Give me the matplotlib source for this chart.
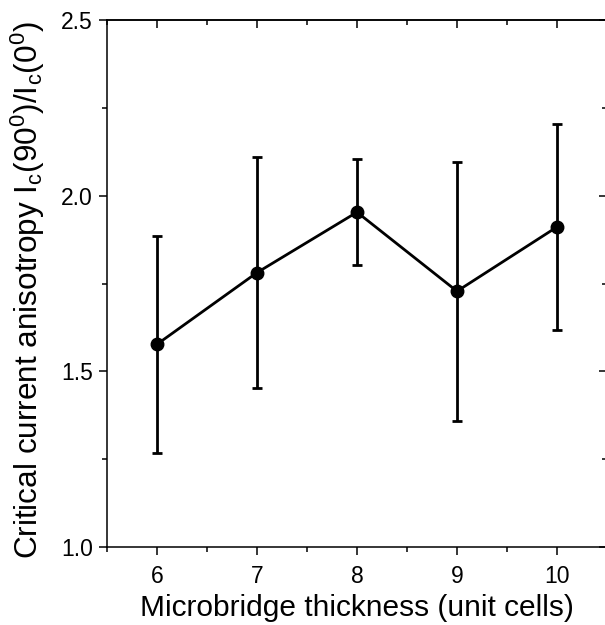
import matplotlib
matplotlib.use("Agg")
import matplotlib.pyplot as plt
from matplotlib.ticker import MultipleLocator

plt.rcParams['font.family'] = ['Liberation Sans', 'DejaVu Sans']
plt.rcParams['mathtext.fontset'] = 'custom'
plt.rcParams['mathtext.rm'] = 'Liberation Sans'
plt.rcParams['mathtext.it'] = 'Liberation Sans:italic'
plt.rcParams['mathtext.bf'] = 'Liberation Sans:bold'

thickness = [6, 7, 8, 9, 10]
anisotropy = [1.577, 1.781, 1.953, 1.728, 1.911]
err_upper = [1.886, 2.109, 2.104, 2.097, 2.204]
err_lower = [1.267, 1.453, 1.804, 1.360, 1.619]

yerr = [[a - lo for a, lo in zip(anisotropy, err_lower)],
        [hi - a for a, hi in zip(anisotropy, err_upper)]]

fig = plt.figure(figsize=(6.05, 6.25), dpi=100)
ax = fig.add_axes([107/605, 1 - 547/625, 500/605, 527/625])

ax.errorbar(thickness, anisotropy, yerr=yerr, color='black', lw=2.0,
            marker='o', markersize=9, capsize=3.6, capthick=2.0, elinewidth=2.0)

ax.set_xlim(5.5, 10.5)
ax.set_ylim(1.0, 2.5)
ax.xaxis.set_major_locator(MultipleLocator(1))
ax.xaxis.set_minor_locator(MultipleLocator(0.5))
ax.set_yticks([1.0, 1.5, 2.0, 2.5])
ax.set_yticklabels(['1.0', '1.5', '2.0', '2.5'])
ax.yaxis.set_minor_locator(MultipleLocator(0.25))

for s in ax.spines.values():
    s.set_linewidth(1.1)

ax.tick_params(axis='both', which='both', direction='out', width=1.1)
ax.tick_params(axis='both', which='major', length=6, labelsize=16.5)
ax.tick_params(axis='both', which='minor', length=3.5)
ax.tick_params(axis='x', which='major', pad=7)
ax.tick_params(axis='y', which='major', pad=4)

# inward ticks on top and right
top = ax.secondary_xaxis('top')
top.xaxis.set_major_locator(MultipleLocator(1))
top.xaxis.set_minor_locator(MultipleLocator(0.5))
top.tick_params(which='both', direction='in', width=1.1, labeltop=False)
top.tick_params(which='major', length=6)
top.tick_params(which='minor', length=3.5)
top.spines['top'].set_linewidth(1.1)

right = ax.secondary_yaxis('right')
right.yaxis.set_major_locator(MultipleLocator(0.5))
right.yaxis.set_minor_locator(MultipleLocator(0.25))
right.tick_params(which='both', direction='in', width=1.1, labelright=False)
right.tick_params(which='major', length=6)
right.tick_params(which='minor', length=3.5)

ax.set_xlabel('Microbridge thickness (unit cells)', fontsize=21.5, labelpad=4)
ax.set_ylabel('Critical current anisotropy I$_\\mathregular{c}$(90$^\\mathregular{0}$)/I$_\\mathregular{c}$(0$^\\mathregular{0}$)',
              fontsize=22.7)
ax.yaxis.set_label_coords(-0.12, 0.487)

fig.savefig('out.png', dpi=100)
